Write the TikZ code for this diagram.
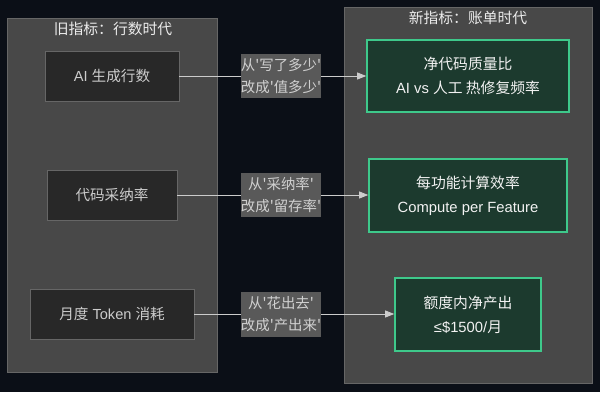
\documentclass[tikz,border=0pt]{standalone}
\usepackage{fontspec}
\setmainfont{Liberation Sans}
\newfontfamily\cjk{Noto Sans CJK SC}
\newcommand{\zh}[1]{{\cjk #1}}
\usetikzlibrary{arrows.meta}
\definecolor{bgc}{HTML}{0B0F17}
\definecolor{clfill}{HTML}{484848}
\definecolor{clline}{HTML}{666666}
\definecolor{oldfill}{HTML}{282828}
\definecolor{oldtext}{HTML}{CCCCCC}
\definecolor{newfill}{HTML}{1C3A2E}
\definecolor{newline}{HTML}{3EC98B}
\definecolor{lblfill}{HTML}{595959}
\definecolor{lbltext}{HTML}{D0D0D0}
\definecolor{edgec}{HTML}{CCCCCC}
\tikzset{
  cluster/.style={draw=clline, fill=clfill, line width=0.8pt},
  ctitle/.style={text=white!92!black, font=\fontsize{14.8}{16}\selectfont, inner sep=0pt},
  oldbox/.style={draw=clline, fill=oldfill, line width=0.8pt, text=oldtext,
     font=\fontsize{14.6}{16}\selectfont, minimum height=50pt, inner sep=0pt},
  newbox/.style={draw=newline, fill=newfill, line width=1.6pt, text=white!95!black,
     font=\fontsize{14.8}{24}\selectfont, minimum height=72pt, inner sep=0pt, align=center},
  lbl/.style={fill=lblfill, text=lbltext, font=\fontsize{14.4}{22}\selectfont,
     minimum width=80pt, minimum height=44pt, inner sep=0pt, align=center},
  conn/.style={draw=edgec, line width=0.8pt, -{Triangle[length=9pt,width=7pt]}}
}
\begin{document}
\begin{tikzpicture}[x=1pt,y=-1pt]
\fill[bgc] (0,0) rectangle (600,392);
\useasboundingbox (0,0) rectangle (600,392);
% clusters
\draw[cluster] (7,18) rectangle (217,372);
\node[ctitle] (t1) at (113,29) {\zh{旧指标：行数时代}};
\draw[cluster] (344,7) rectangle (592,383);
\node[ctitle] (t2) at (468,18) {\zh{新指标：账单时代}};
% old nodes
\node[oldbox, minimum width=134pt] (a) at (112,76) {AI \zh{生成行数}};
\node[oldbox, minimum width=130pt] (b) at (112,195) {\zh{代码采纳率}};
\node[oldbox, minimum width=164pt] (c) at (112,314) {\zh{月度} Token \zh{消耗}};
% new nodes
\node[newbox, minimum width=202pt] (d) at (468,76) {\zh{净代码质量比}\\AI vs \zh{人工 热修复频率}};
\node[newbox, minimum width=198pt, minimum height=73pt] (e) at (468,195.5) {\zh{每功能计算效率}\\Compute per Feature};
\node[newbox, minimum width=146pt, minimum height=73pt] (f) at (468,314.5) {\zh{额度内净产出}\\≤\$1500/\zh{月}};
% connectors
\draw[conn] (a.east) -- (d.west);
\draw[conn] (b.east) -- (b.east -| e.west);
\draw[conn] (c.east) -- (c.east -| f.west);
% labels
\node[lbl] (l1) at (281,76) {\zh{从'写了多少'}\\\zh{改成'值多少'}};
\node[lbl] (l2) at (281,195) {\zh{从'采纳率'}\\\zh{改成'留存率'}};
\node[lbl, minimum height=45pt] (l3) at (281,314.5) {\zh{从'花出去'}\\\zh{改成'产出来'}};
\end{tikzpicture}
\end{document}
